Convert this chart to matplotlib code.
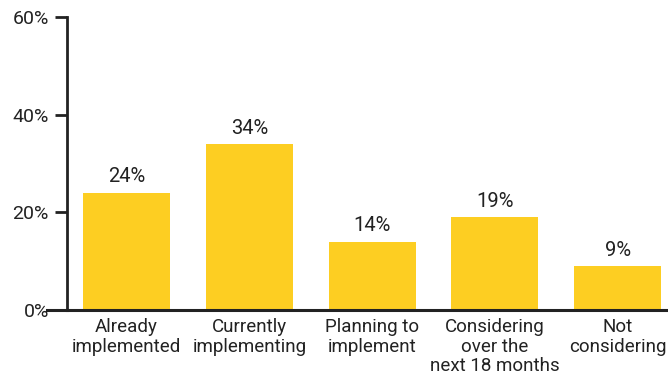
import matplotlib
matplotlib.use("Agg")
import matplotlib.pyplot as plt
from matplotlib import font_manager

categories = ["Already\nimplemented", "Currently\nimplementing", "Planning to\nimplement",
              "Considering\nover the\nnext 18 months", "Not\nconsidering"]
values = [24, 34, 14, 19, 9]
yticks = [0, 20, 40, 60]

names = {f.name for f in font_manager.fontManager.ttflist}
family = [n for n in ["Roboto", "DejaVu Sans"] if n in names]
plt.rcParams["font.family"] = family
plt.rcParams["font.weight"] = "normal"

bar_color = "#FDCE22"
ink = "#222222"

fig = plt.figure(figsize=(6.68, 3.77), dpi=100)
ax = fig.add_axes([0.1003, 0.1777, 0.8997, 0.7772])

x = list(range(len(categories)))
ax.bar(x, values, width=0.71, color=bar_color, zorder=2)
for xi, v in zip(x, values):
    ax.text(xi, v + 1.3, f"{v}%", ha="center", va="bottom", fontsize=14.5, color=ink)

ax.set_xlim(-0.485, 4.41)
ax.set_ylim(0, 60)
ax.set_yticks(yticks)
ax.set_yticklabels([f"{t}%" for t in yticks], fontsize=14, color=ink)
ax.set_xticks(x)
ax.set_xticklabels(categories, fontsize=13.5, color=ink, linespacing=1.1)

for s in ["top", "right", "bottom"]:
    ax.spines[s].set_visible(False)
ax.spines["left"].set_linewidth(2)
ax.spines["left"].set_color(ink)
ax.axhline(0, color=ink, lw=2.2, clip_on=False, zorder=3)
ax.plot([-0.485 - 0.16, -0.485], [0, 0], color=ink, lw=2.2, clip_on=False, zorder=3)

ax.tick_params(axis="y", direction="out", length=9, width=2, color=ink, pad=4)
ax.tick_params(axis="x", length=0, pad=6)

fig.savefig("out.png", dpi=100)
